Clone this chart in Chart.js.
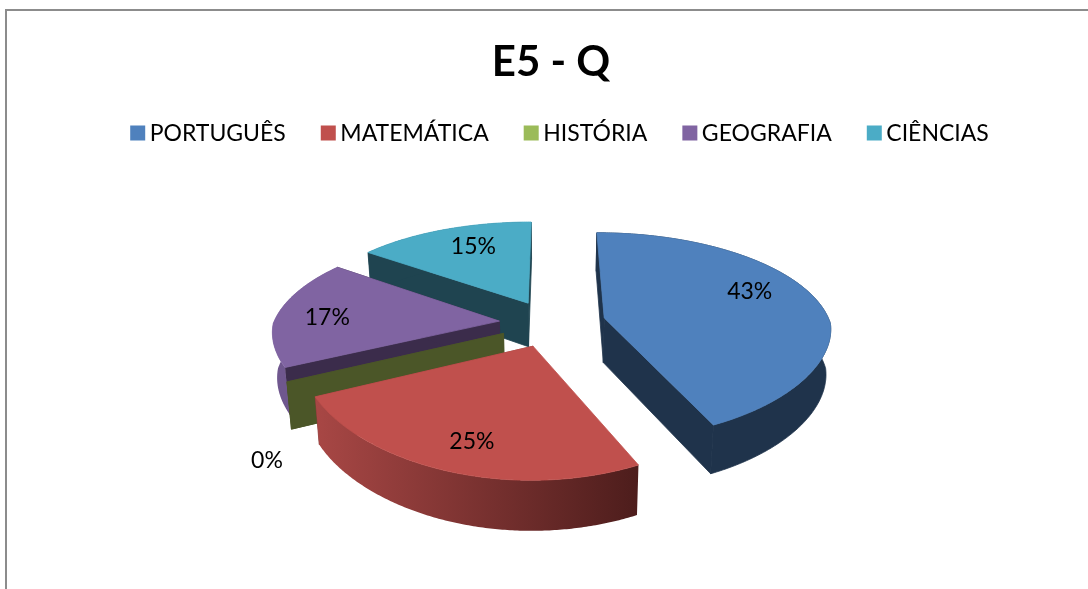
<!DOCTYPE html>
<html><head><meta charset="utf-8">
<style>
html,body{margin:0;padding:0;background:#fff;overflow:hidden}
#wrap{position:relative;width:1088px;height:589px;overflow:hidden}
#frame{position:absolute;left:5px;top:9px;width:1200px;height:700px;border:2px solid #8c8c8c;box-sizing:border-box}
canvas{position:absolute;left:0;top:0}
</style>
<script src="https://cdn.jsdelivr.net/npm/chart.js@4"></script>
</head><body>
<div id="wrap"><div id="frame"></div><canvas id="c" width="1088" height="589"></canvas></div>
<script>
const chartTitle = 'E5 - Q';
const categories = ['PORTUGUÊS','MATEMÁTICA','HISTÓRIA','GEOGRAFIA','CIÊNCIAS'];
const percentValues = [43,25,0,17,15];
const sliceColors = ['#4f81bd','#c0504d','#9bbb59','#8064a2','#4bacc6'];
const sideColors = ['#1f334b','#8a3b39','#4b5628','#3b2c4b','#1f4450'];
const rimColors = [['#1f334b','#1f334b'],['#a84745','#4d1d1c'],['#4b5628','#4b5628'],['#6f578e','#5a4674'],['#1f4450','#1f4450']];
const paintOrder = [4,3,2,1,0];
const labelPlace = [[0.74,-9],[0.79,-2],[1.36,-22],[0.77,-3],[0.72,3.5]];

const DX_FRONT=2500, DX_BACK=1400, DY=1298, Q=0.45, DEPTH=45, CONV=0.017;
function project(cx,cy,px,py,h){
  const sx=1/(1-py/(py<0?DX_BACK:DX_FRONT)), sy=1/(1-py/DY);
  let X=px*sx, Y=py*Q*sy;
  if(h){ X*=1-CONV; Y+=DEPTH*sx; }
  return [cx+X,cy+Y];
}
const pie3d={
  id:'pie3d',
  afterLayout(chart){ chart.legend.left+=12; chart.legend.right+=12; },
  beforeDatasetsDraw(chart){
    const ctx=chart.ctx, arcs=chart.getDatasetMeta(0).data;
    const geom=arcs.map(a=>{
      const p=a.getProps(['x','y','startAngle','endAngle','outerRadius'],true);
      const mid=(p.startAngle+p.endAngle)/2, off=a.options.offset;
      return {...p,mid,ax:off*Math.cos(mid),ay:off*Math.sin(mid)};
    });
    const poly=(pts,fill,seal)=>{
      ctx.beginPath();pts.forEach((q,i)=>i?ctx.lineTo(q[0],q[1]):ctx.moveTo(q[0],q[1]));
      ctx.closePath();ctx.fillStyle=fill;ctx.fill();
      if(seal){ctx.strokeStyle=fill;ctx.lineWidth=0.8;ctx.stroke();}
    };
    paintOrder.forEach(i=>{
      const g=geom[i], P=(t,r,h)=>project(g.x,g.y,g.ax+r*Math.cos(t),g.ay+r*Math.sin(t),h);
      const n=Math.max(1,Math.ceil((g.endAngle-g.startAngle)/0.01));
      const ang=[];for(let k=0;k<=n;k++)ang.push(g.startAngle+(g.endAngle-g.startAngle)*k/n);
      const R=g.outerRadius;
      [g.startAngle,g.endAngle].forEach(t=>{
        if(i===1&&t===g.startAngle)return;
        poly([P(t,0,0),P(t,R,0),P(t,R,1),P(t,0,1)],sideColors[i],true);
      });
      if(g.endAngle>g.startAngle){
        const top=ang.map(t=>P(t,R,0)), bot=ang.map(t=>P(t,R,1));
        const xs=top.concat(bot).map(q=>q[0]);
        const gr=ctx.createLinearGradient(Math.min(...xs),0,Math.max(...xs),0);
        gr.addColorStop(0,rimColors[i][0]);gr.addColorStop(1,rimColors[i][1]);
        poly(top.concat(bot.reverse()),i===1?gr:rimColors[i][0],i===0);
        poly([P(0,0,0)].concat(ang.map(t=>P(t,R,0))),arcs[i].options.backgroundColor,true);
      }
    });
    ctx.save();
    ctx.fillStyle='#000';ctx.font='23px Lato';ctx.textAlign='center';ctx.textBaseline='middle';
    geom.forEach((g,i)=>{
      const t=g.mid+labelPlace[i][1]*Math.PI/180, r=labelPlace[i][0]*g.outerRadius;
      const q=project(g.x,g.y,g.ax+r*Math.cos(t),g.ay+r*Math.sin(t),0);
      ctx.fillText(percentValues[i]+'%',q[0],q[1]);
    });
    ctx.restore();
    return false;
  }
};
new Chart(document.getElementById('c'),{
  type:'pie',
  data:{labels:categories,datasets:[{data:percentValues,backgroundColor:sliceColors,borderWidth:0,offset:[55,52,52,52,52],radius:226}]},
  options:{
    responsive:false,animation:false,
    layout:{padding:{left:24,right:10,top:0,bottom:97}},
    plugins:{
      tooltip:{enabled:false},
      title:{display:true,text:chartTitle,color:'#000',font:{family:'Lato',size:42,weight:'bold',lineHeight:0.8},padding:{top:46,bottom:0}},
      legend:{display:true,position:'top',labels:{color:'#000',font:{family:'Lato',size:23},usePointStyle:true,pointStyle:'rect',boxWidth:1,boxHeight:15,padding:42}}
    }
  },
  plugins:[pie3d]
});
</script>
</body></html>
